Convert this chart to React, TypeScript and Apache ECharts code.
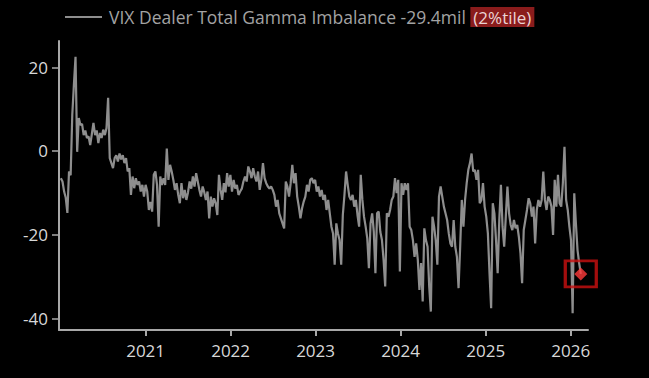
import React, { useEffect, useRef } from "react";
import * as echarts from "echarts";

const SERIES_NAME = "VIX Dealer Total Gamma Imbalance -29.4mil";
const PCTILE_TAG = "(2%tile)";
const START_DATE = Date.UTC(2020, 0, 3);
const WEEK_MS = 7 * 24 * 3600 * 1000;

const values2020: number[] = [
  -6.5, -7.3, -9.7, -11.2, -14.8, -4.9, -5.8, 8.6, 15.8, 22.5, -0.2, 7.9, 6.2, 6.5, 3.8, 4.9, 3.1, 3.5, 1.4, 4.0,
  6.7, 3.8, 4.9, 1.9, 4.3, 3.1, 5.1, 3.8, 5.5, 12.7, -1.7, -2.9, -4.1, -1.7, -1.0, -2.5, -0.6, -2.0, -1.0, -2.9,
  -1.7, -4.9, -4.1, -10.5, -6.1, -8.9, -6.5, -8.1, -7.3, -9.7, -8.1, -10.9,
];
const values2021: number[] = [
  -8.1, -9.7, -14.1, -12.2, -14.5, -5.7, -4.9, -8.1, -18.1, -6.1, -8.1, -6.5, -8.1, 0.6, -6.9, -3.3, -4.9, -6.9, -9.3, -7.7,
  -10.5, -12.5, -7.7, -11.3, -9.3, -11.7, -9.9, -7.3, -9.0, -6.1, -8.5, -5.3, -7.3, -9.3, -10.9, -8.5, -9.9, -11.7, -9.7, -16.1,
  -10.9, -13.3, -11.3, -12.5, -15.3, -5.7, -9.3, -11.7, -7.7, -9.9, -5.3, -8.5,
];
const values2022: number[] = [
  -5.7, -9.7, -6.9, -9.0, -8.1, -10.5, -9.7, -9.0, -7.3, -6.1, -7.3, -3.7, -4.9, -6.5, -4.1, -6.1, -7.3, -4.9, -9.3, -6.9,
  -2.9, -6.5, -7.7, -8.5, -9.0, -8.5, -9.3, -10.5, -13.3, -11.7, -14.9, -16.1, -17.3, -18.5, -7.3, -8.5, -10.9, -7.7, -3.3, -7.7,
  -5.3, -10.9, -13.3, -16.1, -13.7, -12.1, -10.9, -8.1, -9.7, -6.9, -6.5, -7.7,
];
const values2023: number[] = [
  -6.9, -9.7, -8.5, -10.9, -9.3, -11.7, -10.5, -14.1, -11.7, -14.9, -18.1, -19.7, -27.2, -17.3, -19.7, -21.3, -27.2, -15.3, -10.5, -4.9,
  -8.1, -10.9, -11.7, -10.5, -13.3, -11.7, -15.3, -18.1, -5.7, -11.7, -15.7, -18.1, -20.9, -28.0, -17.3, -14.9, -19.3, -29.2, -14.9, -14.5,
  -19.3, -21.3, -26.0, -32.4, -14.9, -15.7, -14.1, -11.7, -10.9, -6.5, -10.1, -6.9,
];
const values2024: number[] = [
  -28.8, -7.7, -10.5, -7.7, -9.3, -7.7, -18.1, -18.9, -21.3, -25.3, -22.1, -26.0, -33.2, -26.8, -36.0, -18.5, -21.3, -22.9, -32.4, -38.4,
  -15.7, -18.1, -21.3, -27.2, -10.9, -8.5, -10.9, -13.3, -14.9, -16.5, -19.7, -22.1, -22.9, -16.5, -22.9, -25.3, -32.8, -22.9, -11.7, -18.1,
  -11.7, -7.7, -4.5, -2.9, -0.6, -4.9, -4.5, -6.9, -4.5, -12.5, -11.7, -7.7,
];
const values2025: number[] = [
  -13.3, -15.7, -19.7, -29.2, -37.6, -12.5, -14.9, -21.3, -29.2, -16.5, -8.1, -18.1, -22.9, -15.7, -8.5, -14.9, -17.7, -18.9, -16.5, -18.5,
  -17.7, -20.5, -24.5, -31.6, -18.9, -16.5, -14.1, -11.3, -12.5, -15.7, -13.3, -22.1, -14.1, -11.7, -13.3, -11.7, -4.9, -11.7, -14.1, -10.9,
  -11.7, -13.3, -20.1, -6.9, -13.3, -5.7, -12.5, -13.3, -7.7, 1.0, -11.7, -14.1,
];
const values2026: number[] = [-18.1, -21.3, -38.8, -10.1, -17.3, -23.7, -26.8, -29.4];

const allValues = [...values2020, ...values2021, ...values2022, ...values2023, ...values2024, ...values2025, ...values2026];
const dates = allValues.map((_, i) => START_DATE + i * WEEK_MS);

const yearTicks = [2021, 2022, 2023, 2024, 2025, 2026].map((y) => Date.UTC(y, 0, 1));
const yTicks = [-40, -20, 0, 20];

export default function App() {
  const ref = useRef<HTMLDivElement>(null);
  useEffect(() => {
    if (!ref.current) return;
    const chart = echarts.init(ref.current, undefined, { renderer: "svg" });
    const lineData = allValues.map((v, i) => [dates[i], v]);
    const last = lineData[lineData.length - 1];
    const font = "'Open Sans', 'Noto Sans', sans-serif";
    chart.setOption({
      animation: false,
      backgroundColor: "#000000",
      grid: { left: 59, right: 61, top: 41, bottom: 48, containLabel: false },
      legend: {
        data: [SERIES_NAME],
        left: 60,
        top: 2,
        icon: "rect",
        itemWidth: 37,
        itemHeight: 2,
        itemGap: 10,
        formatter: () => `{a|${SERIES_NAME}} {b|${PCTILE_TAG}}`,
        textStyle: {
          fontFamily: font,
          fontSize: 17.5,
          color: "#a3a3a3",
          rich: {
            a: { fontFamily: font, fontSize: 17.5, color: "#a3a3a3", padding: [0, 0, 0, 2] },
            b: {
              fontFamily: font,
              fontSize: 17,
              color: "#ead4d4",
              backgroundColor: "#8a1c1c",
              padding: [2, 3, 1, 3],
            },
          },
        },
      },
      xAxis: {
        type: "value",
        min: Date.UTC(2019, 11, 26),
        max: Date.UTC(2026, 2, 16),
        axisLine: { show: true, onZero: false, lineStyle: { color: "#a8a8a8", width: 2 } },
        axisTick: { show: true, length: 6, customValues: yearTicks, lineStyle: { color: "#a8a8a8", width: 2 } },
        axisLabel: {
          customValues: yearTicks,
          margin: 12,
          fontFamily: font,
          fontSize: 17,
          color: "#d8d8d8",
          formatter: (v: number) => String(new Date(v).getUTCFullYear()),
        },
        splitLine: { show: false },
      },
      yAxis: {
        type: "value",
        min: -42.8,
        max: 26.3,
        axisLine: { show: true, onZero: false, lineStyle: { color: "#a8a8a8", width: 2 } },
        axisTick: { show: true, length: 7, customValues: yTicks, lineStyle: { color: "#a8a8a8", width: 1.5 } },
        axisLabel: {
          customValues: yTicks,
          margin: 11,
          fontFamily: font,
          fontSize: 17,
          color: "#d8d8d8",
        },
        splitLine: { show: false },
      },
      series: [
        {
          name: SERIES_NAME,
          type: "line",
          data: lineData,
          showSymbol: false,
          symbol: "none",
          lineStyle: { color: "#8e8e8e", width: 2.2 },
          itemStyle: { color: "#8e8e8e" },
          z: 2,
        },
        {
          name: "box",
          type: "scatter",
          data: [last],
          symbol: "rect",
          symbolSize: [31, 26],
          itemStyle: { color: "rgba(0,0,0,0)", borderColor: "#cc1010", borderWidth: 3 },
          z: 3,
        },
        {
          name: "marker",
          type: "scatter",
          data: [last],
          symbol: "diamond",
          symbolSize: 13,
          itemStyle: { color: "#ff3b3b" },
          z: 4,
        },
      ],
    });
    return () => chart.dispose();
  }, []);
  return (
    <div
      ref={ref}
      style={{ position: "fixed", left: 0, top: 0, width: 649, height: 378, background: "#000" }}
    />
  );
}
